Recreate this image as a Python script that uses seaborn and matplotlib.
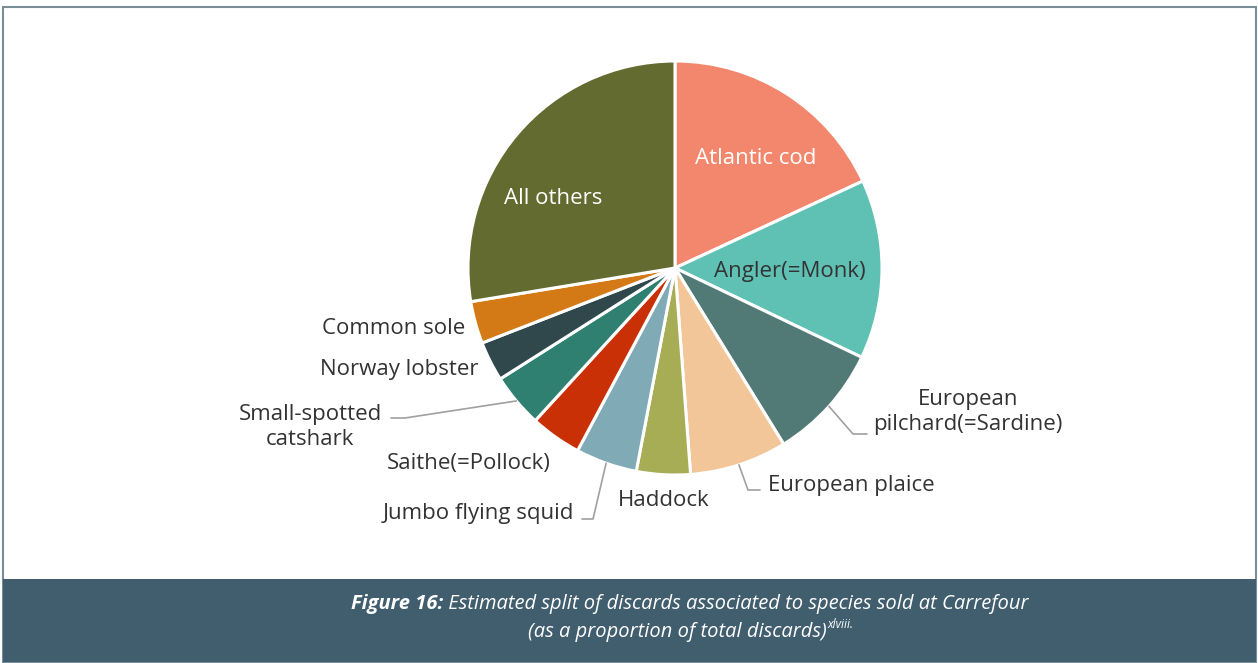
import numpy as np
import matplotlib
matplotlib.use("Agg")
import matplotlib.pyplot as plt
import seaborn as sns
from matplotlib.patches import Rectangle
from matplotlib.lines import Line2D

species = ["Atlantic cod", "Angler(=Monk)", "European\npilchard(=Sardine)", "European plaice",
           "Haddock", "Jumbo flying squid", "Saithe(=Pollock)", "Small-spotted\ncatshark",
           "Norway lobster", "Common sole", "All others"]
shares = [18.1, 14.0, 9.1, 7.6, 4.2, 4.8, 4.0, 4.2, 3.1, 3.3, 27.6]
colors = ["#F2876E", "#5FC1B4", "#517A77", "#F2C698", "#A6AD55", "#7FAAB6",
          "#C93005", "#2F8070", "#30474C", "#D37A16", "#636B30"]

sns.set_theme(style="white")
plt.rcParams['font.family'] = ['Open Sans', 'DejaVu Sans']

W, H = 1258, 663
fig = plt.figure(figsize=(W / 100, H / 100), dpi=100)
fig.patch.set_facecolor("white")

def fx(x): return x / W
def fy(y): return 1 - y / H

fig.add_artist(Rectangle((fx(3.5), fy(662)), fx(1256) - fx(3.5), fy(6.5) - fy(662),
                         transform=fig.transFigure, fill=False, edgecolor="#7A8C96", lw=1.5))
fig.add_artist(Rectangle((fx(3.5), fy(662)), fx(1256) - fx(3.5), fy(579) - fy(662),
                         transform=fig.transFigure, facecolor="#415E6E", edgecolor="none"))

cx, cy, R = 675, 268, 207
ax = fig.add_axes([0, 0, 1, 1])
ax.set_facecolor("none")
wedges, _ = ax.pie(shares, colors=colors, startangle=90, counterclock=False,
                   wedgeprops=dict(edgecolor="white", linewidth=2.2))
ax.set_aspect("auto")
ax.set_xlim(-cx / R, (W - cx) / R)
ax.set_ylim(-(H - cy) / R, cy / R)
ax.axis("off")

def P(x, y):
    return ((x - cx) / R, (cy - y - 2) / R)

def L(x, y):
    return ((x - cx) / R, (cy - y) / R)

def edge(i):
    w = wedges[i]
    a = np.deg2rad((w.theta1 + w.theta2) / 2)
    return (np.cos(a), np.sin(a))

tc = "#333333"
fs = 16
lc = "#A0A0A0"

ax.text(*P(756, 157), species[0], color="white", fontsize=fs, ha="center", va="center")
ax.text(*P(790, 270), species[1], color=tc, fontsize=fs, ha="center", va="center")
ax.text(*P(553, 196), species[10], color="white", fontsize=fs, ha="center", va="center")

def leader(i, pts):
    xs = [edge(i)[0]] + [L(*p)[0] for p in pts]
    ys = [edge(i)[1]] + [L(*p)[1] for p in pts]
    ax.add_line(Line2D(xs, ys, color=lc, lw=1.2))

ax.text(*P(968, 410), species[2], color=tc, fontsize=fs, ha="center", va="center", linespacing=1.3)
leader(2, [(853, 434), (867, 434)])
ax.text(*P(768, 483), species[3], color=tc, fontsize=fs, ha="left", va="center")
leader(3, [(748, 490), (760, 490)])
ax.text(*P(664, 499), species[4], color=tc, fontsize=fs, ha="center", va="center")
ax.text(*P(574, 511), species[5], color=tc, fontsize=fs, ha="right", va="center")
leader(5, [(593, 519), (582, 519)])
ax.text(*P(469, 461), species[6], color=tc, fontsize=fs, ha="center", va="center")
ax.text(*P(310, 425), species[7], color=tc, fontsize=fs, ha="center", va="center", linespacing=1.3)
leader(7, [(405, 418), (391, 418)])
ax.text(*P(479, 367), species[8], color=tc, fontsize=fs, ha="right", va="center")
ax.text(*P(465, 327), species[9], color=tc, fontsize=fs, ha="right", va="center")

cap_fs = 14.5
t1 = fig.text(0, fy(604), "Figure 16:", color="white", fontsize=cap_fs, style="italic",
              weight="bold", ha="left", va="center")
t2 = fig.text(0, fy(604), " Estimated split of discards associated to species sold at Carrefour",
              color="white", fontsize=cap_fs, style="italic", ha="left", va="center")
t3 = fig.text(0, fy(632), "(as a proportion of total discards)", color="white", fontsize=cap_fs,
              style="italic", ha="left", va="center")
t4 = fig.text(0, fy(625), "xlviii.", color="white", fontsize=8.5, style="italic",
              ha="left", va="center")
fig.canvas.draw()
r = fig.canvas.get_renderer()
w1 = t1.get_window_extent(r).width
w2 = t2.get_window_extent(r).width
w3 = t3.get_window_extent(r).width
w4 = t4.get_window_extent(r).width
center = 690
x0 = center - (w1 + w2) / 2
t1.set_x(fx(x0)); t2.set_x(fx(x0 + w1))
x0 = center - (w3 + w4) / 2
t3.set_x(fx(x0)); t4.set_x(fx(x0 + w3 + 1))

fig.savefig("out.png", dpi=100, facecolor="white")
